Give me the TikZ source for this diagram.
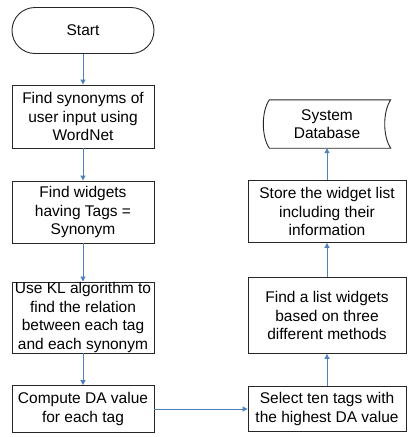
\documentclass[tikz,border=0pt]{standalone}
\usepackage{fontspec}
\setmainfont{Liberation Sans}
\usetikzlibrary{arrows.meta,calc}
\definecolor{arrowblue}{RGB}{79,129,189}
\begin{document}
\begin{tikzpicture}[x=1pt,y=-1pt,
  every node/.style={font=\fontsize{15.5}{18.5}\selectfont, align=center, inner sep=0pt},
  procbox/.style={draw=black!85, line width=0.9pt, minimum height=#1},
  leftbox/.style={procbox=#1, minimum width=142pt},
  rightbox/.style={procbox=#1, minimum width=158pt},
  flow/.style={draw=arrowblue, line width=1pt, -{Triangle[length=5pt,width=5pt]}},
  shapeline/.style={draw=black!85, line width=0.9pt}]
\useasboundingbox (0,0) rectangle (412,437);
\node[draw=black!85, line width=0.9pt, minimum width=142pt, minimum height=46pt, rounded corners=23pt] (start) at (83,30.5) {Start};
\node[leftbox=63pt] (b1) at (83,116.5) {Find synonyms of\\user input using\\WordNet};
\node[leftbox=62pt] (b2) at (83,212) {Find widgets\\having Tags =\\Synonym};
\node[leftbox=71pt] (b3) at (83,317.5) {Use KL algorithm to\\find the relation\\between each tag\\and each synonym};
\node[leftbox=47pt] (b4) at (83,409) {Compute DA value\\for each tag};
\node[rightbox=45pt] (r1) at (327,409) {Select ten tags with\\the highest DA value};
\node[rightbox=76pt] (r2) at (327,315.5) {Find a list widgets\\based on three\\different methods};
\node[rightbox=62pt] (r3) at (327,211.5) {Store the widget list\\including their\\information};
\node[minimum width=127pt, minimum height=48pt] (db) at (327,124) {System\\Database};
\draw[shapeline] ($(db.north west)+(6,0)$) -- (db.north east)
  .. controls ($(db.north east)+(-8,12)$) and ($(db.south east)+(-8,-12)$) .. (db.south east)
  -- ($(db.south west)+(6,0)$)
  .. controls ($(db.south west)+(-2,-12)$) and ($(db.north west)+(-2,12)$) .. ($(db.north west)+(6,0)$) -- cycle;
\draw[flow] (start) -- (b1);
\draw[flow] (b1) -- (b2);
\draw[flow] (b2) -- (b3);
\draw[flow] (b3) -- (b4);
\draw[flow] (b4) -- (r1);
\draw[flow] (r1) -- (r2);
\draw[flow] (r2) -- (r3);
\draw[flow] (r3.north) -- (r3.north |- db.south);
\end{tikzpicture}
\end{document}
